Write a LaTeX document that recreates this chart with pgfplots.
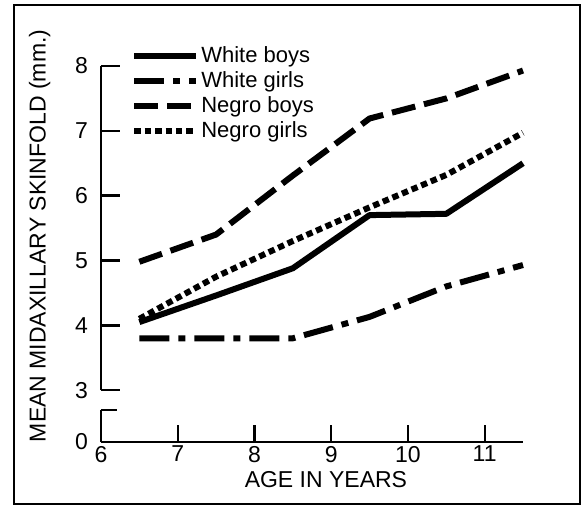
\documentclass[border=0pt]{standalone}
\usepackage{fontspec}
\setmainfont{Liberation Sans}
\usepackage{pgfplots}
\pgfplotsset{compat=1.18}
\begin{document}
\begin{tikzpicture}
\begin{axis}[
  scale only axis, width=211pt, height=188pt,
  xmin=6, xmax=11.5, ymin=2.2, ymax=8,
  enlargelimits=false, clip=false,
  axis x line=bottom, axis y line=left,
  x axis line style={-, line width=1.2pt},
  y axis line style={draw=none},
  xtick={6,7,8,9,10,11},
  ytick={2.2,3,4,5,6,7,8},
  yticklabels={0,3,4,5,6,7,8},
  xtick style={line width=1.1pt, black},
  ytick style={draw=none},
  major tick length=8.5pt,
  tick align=inside,
  /pgf/number format/assume math mode=true,
  tick label style={font=\fontsize{11.5}{13}\selectfont},
  yticklabel style={xshift=-3pt},
  xticklabel style={yshift=1.5pt},
  xlabel={AGE IN YEARS},
  ylabel={MEAN MIDAXILLARY SKINFOLD (mm.)},
  xlabel style={font=\fontsize{11.5}{13}\selectfont, at={(axis description cs:0.533,-0.101)}, anchor=center},
  ylabel style={font=\fontsize{11.5}{13}\selectfont, at={(axis description cs:-0.145,0.548)}, anchor=center, rotate=0},
  legend style={draw=none, fill=none, at={(axis description cs:0.071,1.058)}, anchor=north west,
    font=\fontsize{11}{12}\selectfont, row sep=1pt, inner sep=0pt, nodes={inner sep=1pt}},
  legend cell align=left,
  legend image code/.code={\draw[#1] (0pt,0pt) -- (31pt,0pt);},
]
% frame and bounding box
\path (axis cs:4.684,1.213) rectangle (axis cs:12.347,9.018);
\draw[line width=1pt] (axis cs:4.866,1.244) rectangle (axis cs:12.243,8.94);
% broken y axis
\draw[line width=1.2pt] (axis cs:6,2.2) -- (axis cs:6,2.694);
\draw[line width=1.2pt] (axis cs:6,2.694) -- ++(8pt,0pt);
\draw[line width=1.2pt] (axis cs:6,3) -- (axis cs:6,8);
\draw[line width=1.2pt] (axis cs:6,3) -- ++(9.5pt,0pt);
\draw[line width=1.2pt] (axis cs:6,4) -- ++(9.5pt,0pt);
\draw[line width=1.2pt] (axis cs:6,5) -- ++(9.5pt,0pt);
\draw[line width=1.2pt] (axis cs:6,6) -- ++(9.5pt,0pt);
\draw[line width=1.2pt] (axis cs:6,7) -- ++(9.5pt,0pt);
\draw[line width=1.2pt] (axis cs:6,8) -- ++(9.5pt,0pt);

\addplot[black, line width=3pt, line join=round] coordinates {
 (6.5,4.05) (7.5,4.46) (8.5,4.88) (9.5,5.70) (10.5,5.72) (11.5,6.50)};
\addlegendentry{White boys}
\addplot[black, line width=3pt, dash pattern=on 15pt off 4.5pt on 3.5pt off 4.5pt] coordinates {
 (6.5,3.80) (7.5,3.80) (8.5,3.80) (9.5,4.13) (10.5,4.60) (11.5,4.93)};
\addlegendentry{White girls}
\addplot[black, line width=3pt, dash pattern=on 12pt off 4.5pt] coordinates {
 (6.5,4.98) (7.5,5.40) (8.5,6.31) (9.5,7.19) (10.5,7.50) (11.5,7.93)};
\addlegendentry{Negro boys}
\addplot[black, line width=3pt, dash pattern=on 3.2pt off 2pt] coordinates {
 (6.5,4.10) (7.5,4.75) (8.5,5.30) (9.5,5.82) (10.5,6.32) (11.5,6.97)};
\addlegendentry{Negro girls}
\end{axis}
\end{tikzpicture}
\end{document}
